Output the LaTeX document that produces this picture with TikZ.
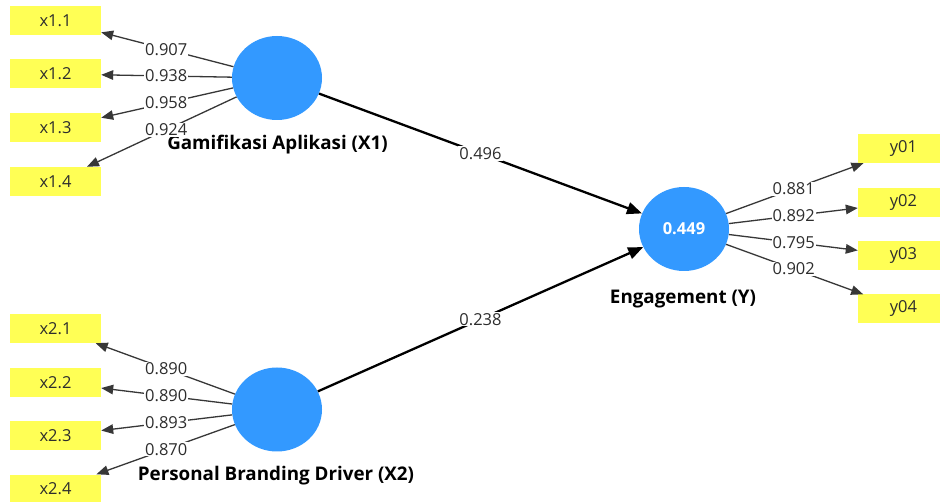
\documentclass[tikz,border=0pt]{standalone}
\usepackage{fontspec}
\setmainfont{Open Sans}
\usetikzlibrary{arrows.meta,shapes.geometric}
\definecolor{lvblue}{RGB}{51,153,255}
\definecolor{indyellow}{RGB}{255,255,85}
\definecolor{linegray}{RGB}{55,55,55}
\definecolor{textgray}{RGB}{45,45,45}
\begin{document}
\begin{tikzpicture}[x=1pt,y=-1pt,
  ind/.style={fill=indyellow, minimum width=91pt, minimum height=29pt, inner sep=0pt,
    text=textgray, font=\fontsize{16.5}{19}\selectfont},
  lv/.style={ellipse, fill=lvblue, minimum width=90pt, minimum height=84pt, inner sep=0pt,
    text=white, font=\bfseries\fontsize{16.5}{19}\selectfont},
  lvname/.style={text=black, font=\bfseries\fontsize{18.8}{22}\selectfont},
  load/.style={draw=linegray, line width=1.3pt, -{Triangle[length=12pt,width=9.5pt]}},
  struct/.style={draw=black, line width=2.3pt, -{Triangle[length=15pt,width=12pt]}},
  coef/.style={fill=white, inner sep=1pt, text=textgray, font=\fontsize{16.5}{19}\selectfont}
]
\clip (0,0) rectangle (940,502);
\fill[white] (0,0) rectangle (940,502);

% latent variables
\node[lv] (X1) at (277,78) {};
\node[lv] (X2) at (277,409.5) {};
\node[lv] (Y) at (684,229) {0.449};

% indicators
\node[ind] (x11) at (55.5,20.5) {x1.1};
\node[ind] (x12) at (55.5,74) {x1.2};
\node[ind] (x13) at (55.5,128) {x1.3};
\node[ind] (x14) at (55.5,181.5) {x1.4};
\node[ind] (x21) at (55.5,328.5) {x2.1};
\node[ind] (x22) at (55.5,382.5) {x2.2};
\node[ind] (x23) at (55.5,436) {x2.3};
\node[ind] (x24) at (55.5,489) {x2.4};
\node[ind] (y01) at (903.5,148.5) {y01};
\node[ind] (y02) at (903.5,202.5) {y02};
\node[ind] (y03) at (903.5,256) {y03};
\node[ind] (y04) at (903.5,309) {y04};

% construct names
\node[lvname] (nX1) at (277.5,145) {Gamifikasi Aplikasi (X1)};
\node[lvname] (nX2) at (276,476) {Personal Branding Driver (X2)};
\node[lvname] (nY) at (683,299) {Engagement (Y)};

% outer loadings
\foreach \s/\t in {X1/x11,X1/x12,X1/x13,X1/x14,X2/x21,X2/x22,X2/x23,X2/x24,Y/y01,Y/y02,Y/y03,Y/y04}
  \draw[load] (\s) -- (\t);

% path coefficients
\draw[struct] (X1) -- (Y);
\draw[struct] (X2) -- (Y);

% coefficient labels
\foreach \s/\t/\v in {X1/x11/0.907,X1/x12/0.938,X1/x13/0.958,X1/x14/0.924,
    X2/x21/0.890,X2/x22/0.890,X2/x23/0.893,X2/x24/0.870,
    Y/y01/0.881,Y/y02/0.892,Y/y03/0.795,Y/y04/0.902,
    X1/Y/0.496,X2/Y/0.238}
  \path (\s.center) -- (\t.center) node[midway, coef] {\v};
\end{tikzpicture}
\end{document}
